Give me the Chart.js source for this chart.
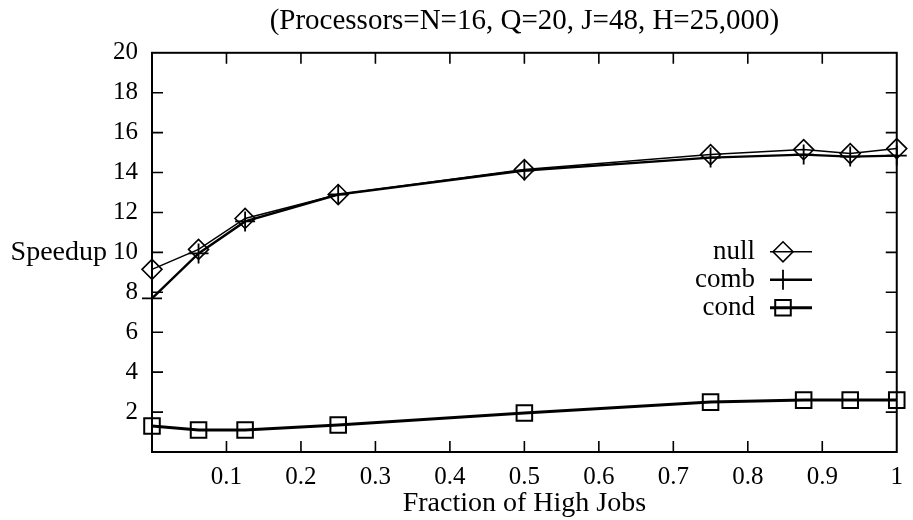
<!DOCTYPE html>
<html>
<head>
<meta charset="utf-8">
<script src="https://cdn.jsdelivr.net/npm/chart.js@4/dist/chart.umd.min.js"></script>
<style>
  html, body { margin: 0; padding: 0; background: #fff; }
  #wrap { width: 913px; height: 520px; }
</style>
</head>
<body>
<div id="wrap"><canvas id="speedup"></canvas></div>
<script>
// Fraction of high-priority jobs in the workload
const fractions = [0, 0.0625, 0.125, 0.25, 0.5, 0.75, 0.875, 0.9375, 1];
// Measured speedup for each scheduling variant
const nullSpeedup = [9.15, 10.15, 11.7, 12.9, 14.15, 14.9, 15.15, 14.95, 15.2];
const combSpeedup = [7.7, 9.95, 11.55, 12.9, 14.1, 14.75, 14.9, 14.8, 14.85];
const condSpeedup = [1.3, 1.1, 1.1, 1.35, 1.95, 2.5, 2.6, 2.6, 2.6];
// Axis tick positions
const xTickValues = [0.1, 0.2, 0.3, 0.4, 0.5, 0.6, 0.7, 0.8, 0.9, 1];
const yTickValues = [2, 4, 6, 8, 10, 12, 14, 16, 18, 20];

const FONT = "'Liberation Serif', 'DejaVu Serif', 'Times New Roman', serif";
const INK = '#000';

const toPoints = ys => fractions.map((x, i) => ({ x, y: ys[i] }));

// Boxed frame with inward tick marks on all four sides
const framePlugin = {
  id: 'frame',
  beforeDatasetsDraw(chart) {
    const { ctx, chartArea: a, scales: { x, y } } = chart;
    const len = 11;
    ctx.save();
    ctx.strokeStyle = INK;
    ctx.lineWidth = 1.6;
    ctx.beginPath();
    x.ticks.forEach(t => {
      if (t.value >= x.max) return;
      const px = x.getPixelForValue(t.value);
      ctx.moveTo(px, a.bottom); ctx.lineTo(px, a.bottom - len);
      ctx.moveTo(px, a.top); ctx.lineTo(px, a.top + len);
    });
    y.ticks.forEach(t => {
      if (t.value >= y.max) return;
      const py = y.getPixelForValue(t.value);
      ctx.moveTo(a.left, py); ctx.lineTo(a.left + len, py);
      ctx.moveTo(a.right, py); ctx.lineTo(a.right - len, py);
    });
    ctx.stroke();
    ctx.lineWidth = 2;
    ctx.strokeRect(a.left, a.top, a.right - a.left, a.bottom - a.top);
    ctx.restore();
  }
};

// Horizontal y-axis caption and the key drawn inside the plot
const keyPlugin = {
  id: 'key',
  afterDraw(chart) {
    const { ctx, chartArea: a, scales: { y } } = chart;
    ctx.save();
    ctx.fillStyle = INK;
    ctx.textBaseline = 'middle';
    ctx.textAlign = 'right';
    ctx.font = '28px ' + FONT;
    ctx.fillText('Speedup', 107, y.getPixelForValue(10));

    ctx.font = '27px ' + FONT;
    const textRight = a.left + 603;
    const rowTop = a.top + 199;
    chart.data.datasets.forEach((ds, i) => {
      const ry = rowTop + i * 28;
      ctx.fillStyle = INK;
      ctx.fillText(ds.label, textRight, ry);
      ctx.strokeStyle = INK;
      ctx.lineWidth = ds.borderWidth;
      ctx.beginPath();
      ctx.moveTo(textRight + 15, ry);
      ctx.lineTo(textRight + 57, ry);
      ctx.stroke();
      ctx.lineWidth = ds.pointBorderWidth;
      ctx.fillStyle = 'rgba(0,0,0,0)';
      Chart.helpers.drawPoint(ctx, {
        pointStyle: ds.pointStyle,
        radius: ds.pointRadius,
        borderWidth: ds.pointBorderWidth,
        rotation: 0
      }, textRight + 28, ry);
    });
    ctx.restore();
  }
};

const series = (label, data, style, radius, lineW, pointW) => ({
  label,
  data: toPoints(data),
  borderColor: INK,
  borderWidth: lineW,
  pointStyle: style,
  pointRadius: radius,
  pointBorderWidth: pointW,
  pointBorderColor: INK,
  pointBackgroundColor: 'rgba(0,0,0,0)',
  tension: 0,
  fill: false,
  clip: false
});

new Chart(document.getElementById('speedup'), {
  type: 'line',
  data: {
    datasets: [
      series('null', nullSpeedup, 'rectRot', 10, 1.5, 1.6),
      series('comb', combSpeedup, 'cross', 10, 2.4, 1.8),
      series('cond', condSpeedup, 'rect', 11, 3, 2)
    ]
  },
  options: {
    responsive: true,
    maintainAspectRatio: false,
    animation: false,
    events: [],
    layout: { padding: { left: 0, right: 6, top: 0, bottom: 0 } },
    plugins: {
      legend: { display: false },
      tooltip: { enabled: false },
      title: {
        display: true,
        fullSize: false,
        text: '(Processors=N=16, Q=20, J=48, H=25,000)',
        color: INK,
        font: { family: FONT, size: 29, weight: 'normal' },
        padding: { top: 4, bottom: 14 }
      }
    },
    scales: {
      x: {
        type: 'linear',
        min: 0,
        max: 1,
        afterBuildTicks: s => { s.ticks = xTickValues.map(value => ({ value })); },
        afterFit: s => { s.height = 68; },
        grid: { display: false, drawTicks: false },
        border: { display: false },
        ticks: {
          color: INK,
          autoSkip: false,
          maxRotation: 0,
          padding: 10,
          font: { family: FONT, size: 25 },
          callback: v => String(v)
        },
        title: {
          display: true,
          text: 'Fraction of High Jobs',
          color: INK,
          font: { family: FONT, size: 28 },
          padding: { top: 0, bottom: 0 }
        }
      },
      y: {
        type: 'linear',
        min: 0,
        max: 20,
        afterBuildTicks: s => { s.ticks = yTickValues.map(value => ({ value })); },
        afterFit: s => { s.width = 152; },
        grid: { display: false, drawTicks: false },
        border: { display: false },
        ticks: {
          color: INK,
          autoSkip: false,
          padding: 14,
          font: { family: FONT, size: 25 },
          callback: v => String(v)
        }
      }
    }
  },
  plugins: [framePlugin, keyPlugin]
});
</script>
</body>
</html>
